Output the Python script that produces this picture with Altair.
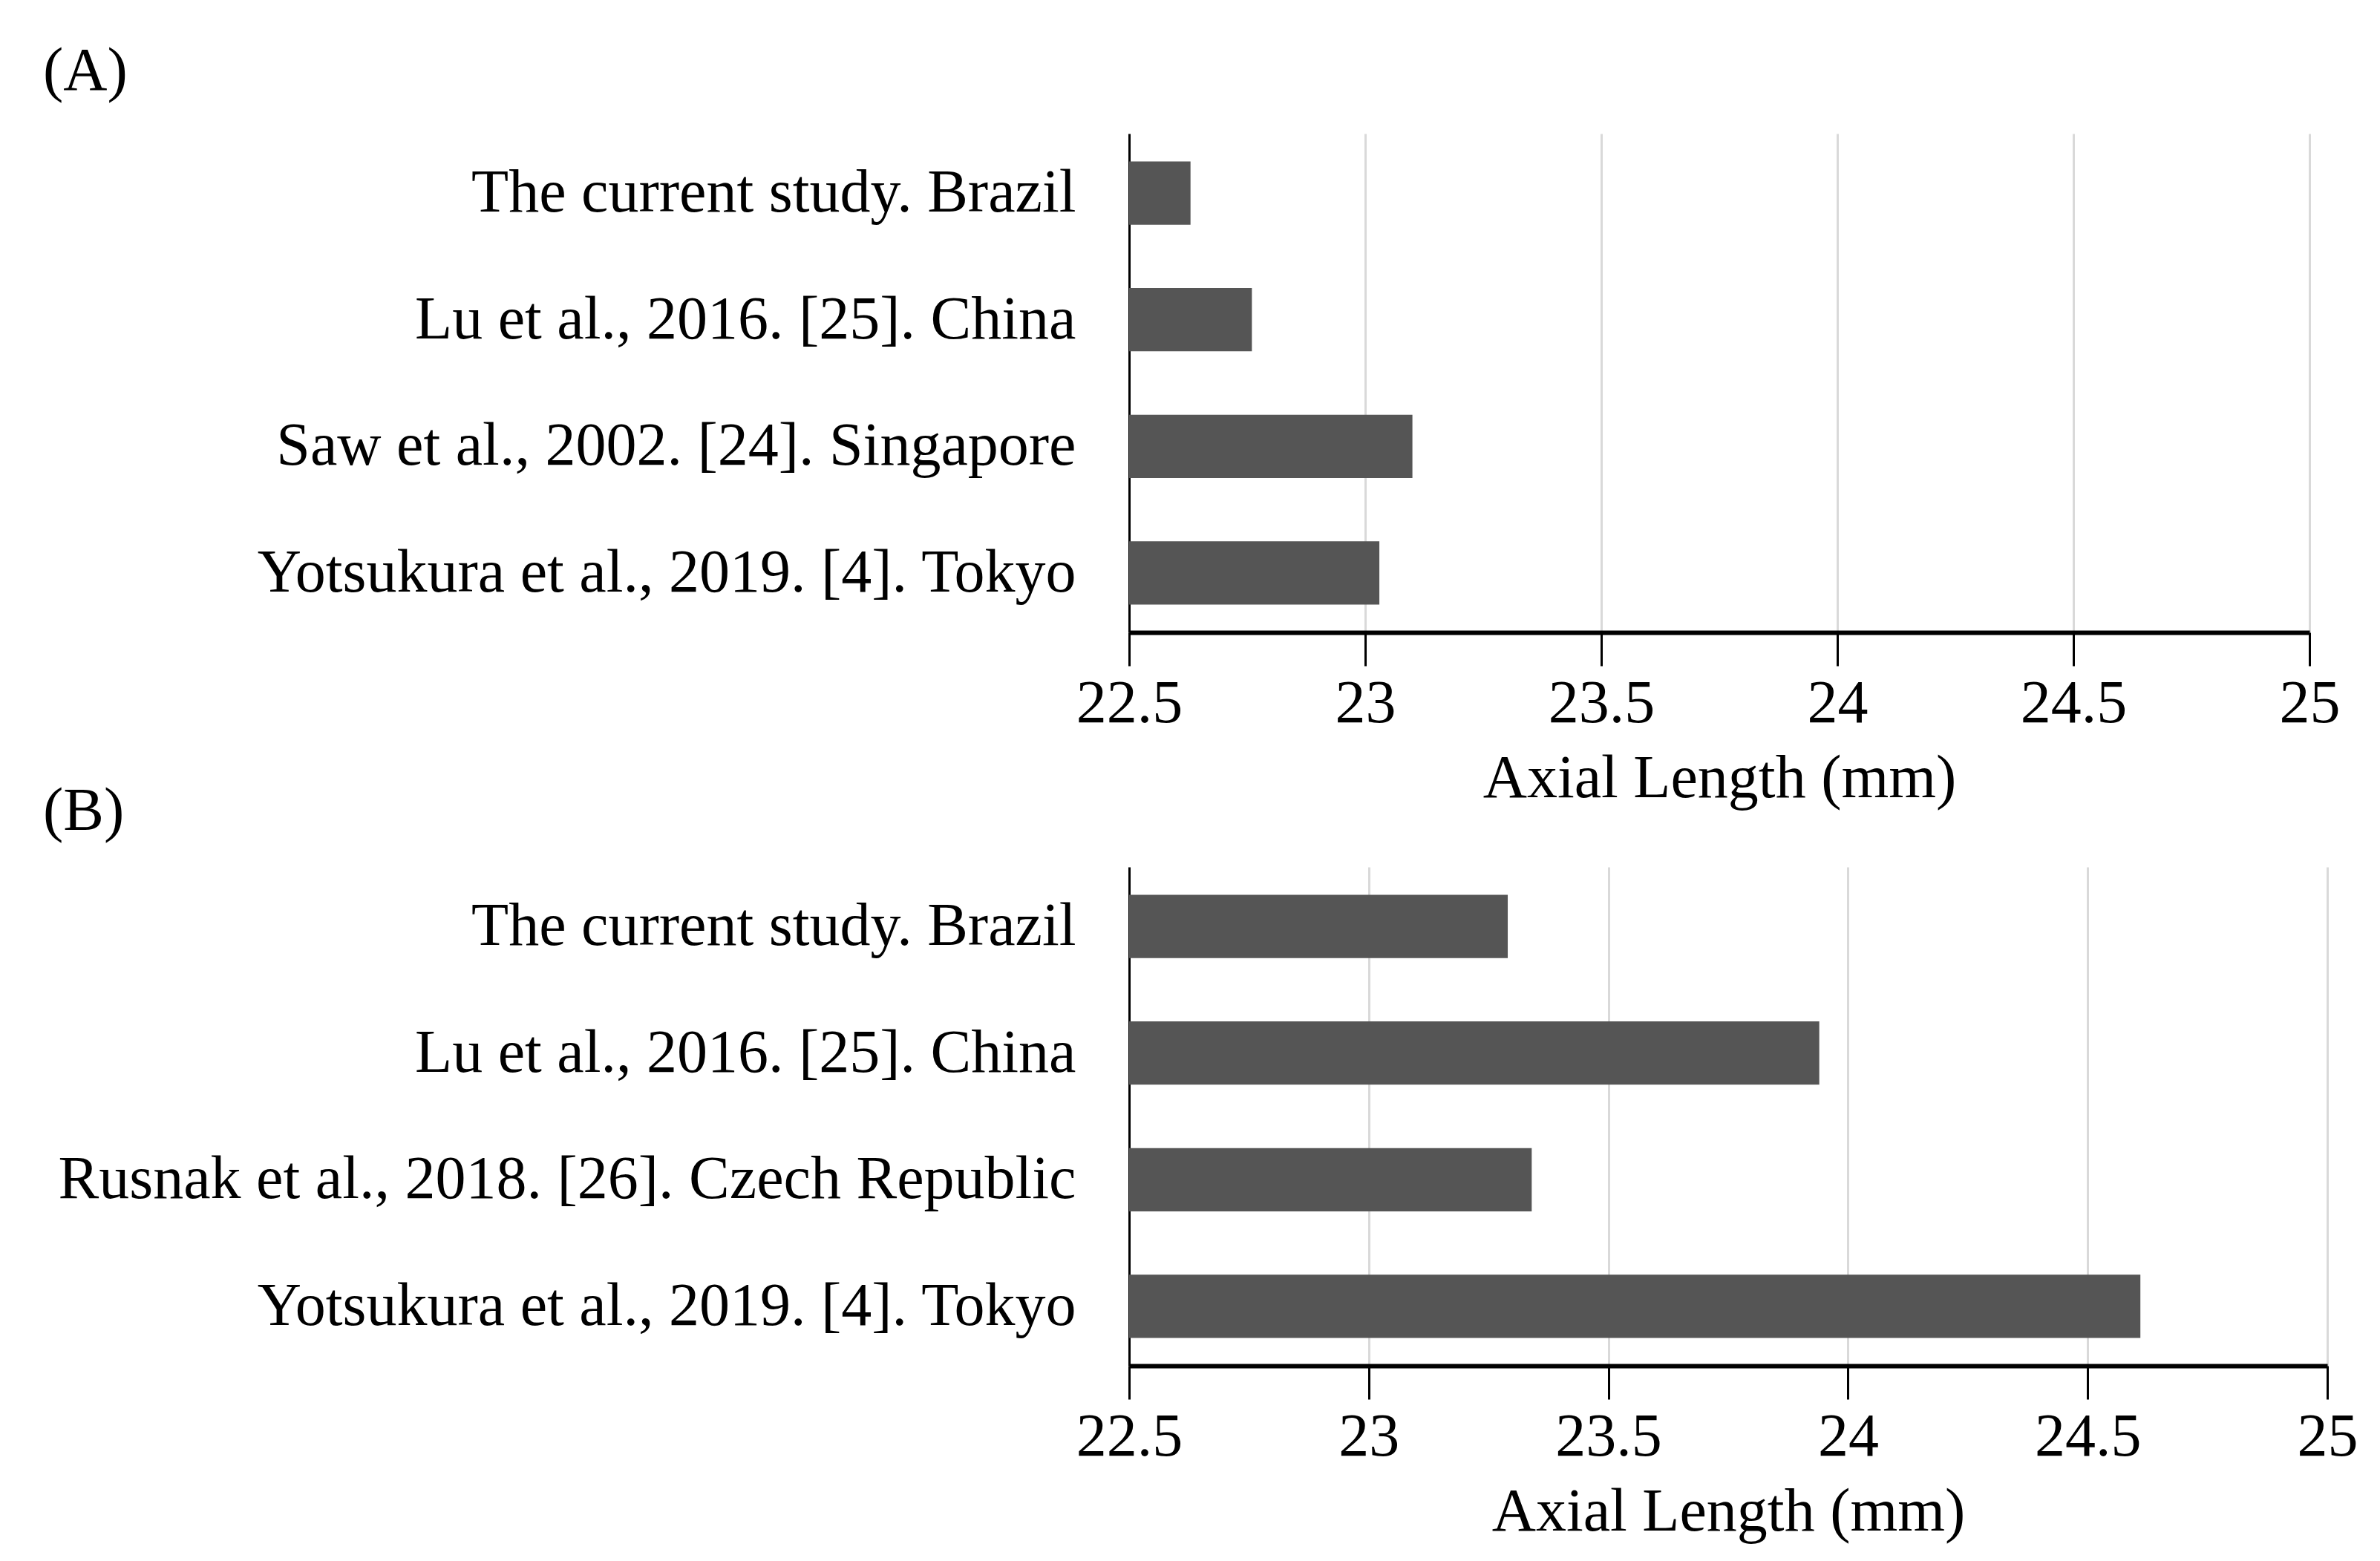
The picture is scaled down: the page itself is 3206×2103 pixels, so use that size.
import altair as alt
import pandas as pd

studies_a = [
    "The current study. Brazil",
    "Lu et al., 2016. [25]. China",
    "Saw et al., 2002. [24]. Singapore",
    "Yotsukura et al., 2019. [4]. Tokyo",
]
values_a = [22.63, 22.76, 23.10, 23.03]

studies_b = [
    "The current study. Brazil",
    "Lu et al., 2016. [25]. China",
    "Rusnak et al., 2018. [26]. Czech Republic",
    "Yotsukura et al., 2019. [4]. Tokyo",
]
values_b = [23.29, 23.94, 23.34, 24.61]

tick_values = [22.5, 23, 23.5, 24, 24.5, 25]
axis_title = "Axial Length (mm)"
panel_labels = ["(A)", "(B)"]

FONT = "Liberation Serif"
FS = 82
BAR = "#555555"


def panel(studies, values, width):
    df = pd.DataFrame({"study": studies, "value": values})
    bars = alt.Chart(df).mark_bar(color=BAR).encode(
        y=alt.Y(
            "study:N",
            sort=studies,
            scale=alt.Scale(paddingInner=0.5, paddingOuter=0.22),
            axis=alt.Axis(
                title=None,
                labelFont=FONT,
                labelFontSize=FS,
                labelColor="black",
                labelPadding=72,
                labelLimit=3000,
                ticks=False,
                grid=False,
                domainColor="black",
                domainWidth=3,
            ),
        ),
        x=alt.X(
            "value:Q",
            scale=alt.Scale(domain=[22.5, 25], nice=False, zero=False),
            axis=alt.Axis(
                title=axis_title,
                values=tick_values,
                format="~g",
                labelFlush=False,
                labelFont=FONT,
                labelFontSize=FS,
                labelColor="black",
                labelPadding=10,
                titleFont=FONT,
                titleFontSize=FS,
                titleFontWeight="normal",
                titleColor="black",
                titlePadding=20,
                tickColor="black",
                tickWidth=3,
                tickSize=45,
                domainColor="black",
                domainWidth=6,
                grid=True,
                gridColor="#d9d9d9",
                gridWidth=3,
            ),
        ),
        x2=alt.datum(22.5),
    )
    return bars.properties(width=width, height=672)


pa = panel(studies_a, values_a, 1590)
pb = panel(studies_b, values_b, 1614)

lab_df = pd.DataFrame({"label": panel_labels})
lab_a = alt.Chart(lab_df).transform_filter(alt.datum.label == "(A)").mark_text(
    font=FONT, fontSize=FS, color="black", align="left", baseline="middle"
).encode(text="label:N", x=alt.value(-1463), y=alt.value(-84))
lab_b = alt.Chart(lab_df).transform_filter(alt.datum.label == "(B)").mark_text(
    font=FONT, fontSize=FS, color="black", align="left", baseline="middle"
).encode(text="label:N", x=alt.value(-1463), y=alt.value(913))

top = alt.layer(pa, lab_a, lab_b)

chart = alt.vconcat(top, pb, spacing=34).properties(
    padding={"left": 50, "top": 47, "right": 5, "bottom": 6}
).configure_view(stroke=None).configure_axis(labelFontWeight="normal")

chart.save("out.html", embed_options={"renderer": "svg", "actions": False})
